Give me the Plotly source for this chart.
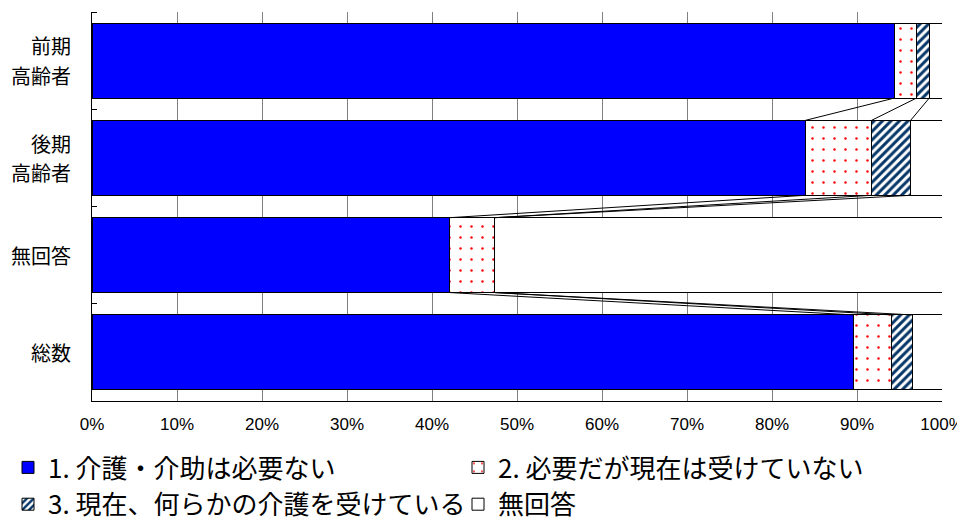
import plotly.graph_objects as go

categories = ["前期<br>高齢者", "後期<br>高齢者", "無回答", "総数"]
series_names = ["1. 介護・介助は必要ない", "2. 必要だが現在は受けていない",
                "3. 現在、何らかの介護を受けている", "無回答"]
s1 = [94.4, 83.9, 42.1, 89.6]
s2 = [2.6, 7.8, 5.3, 4.5]
s3 = [1.5, 4.6, 0.0, 2.4]
s4 = [1.5, 3.7, 52.6, 3.5]
tick_vals_x = [0, 10, 20, 30, 40, 50, 60, 70, 80, 90, 100]
tick_text_x = ["0%", "10%", "20%", "30%", "40%", "50%", "60%", "70%", "80%", "90%", "100%"]

BAR_W = 0.77
ypos = list(range(len(categories)))
series = [s1, s2, s3, s4]

cjk = "Noto Sans CJK JP"
latin = "Liberation Sans, Arial, sans-serif"

styles = [
    dict(color="#0000FF"),
    dict(color="#FFFFFF", pattern=dict(shape=".", fgcolor="#FF0000", bgcolor="#FFFFFF",
                                       fgopacity=1, size=11, solidity=0.04)),
    dict(color="#FFFFFF", pattern=dict(shape="/", fgcolor="#063668", bgcolor="#FFFFFF",
                                       fgopacity=1, size=6, solidity=0.5)),
    dict(color="#FFFFFF"),
]

fig = go.Figure()
for name, vals, st in zip(series_names, series, styles):
    fig.add_trace(go.Bar(
        y=ypos, x=vals, orientation="h", name=name, width=BAR_W,
        marker=dict(**st, line=dict(color="#000000", width=1)),
        hoverinfo="skip",
    ))

# series (connector) lines between bars
cums = []
for i in range(len(categories)):
    c, acc = [], 0.0
    for s in series[:3]:
        acc += s[i]
        c.append(acc)
    cums.append(c)
lx, ly = [], []
for i in range(len(categories) - 1):
    for k in range(3):
        lx += [cums[i][k], cums[i + 1][k], None]
        ly += [ypos[i] + BAR_W / 2, ypos[i + 1] - BAR_W / 2, None]
fig.add_trace(go.Scatter(x=lx, y=ly, mode="lines", line=dict(color="#000000", width=1),
                         showlegend=False, hoverinfo="skip"))

# category labels (one annotation per line, so line spacing matches the reference)
LINE_PITCH = 29.5
annotations = []
for yv, cat in zip(ypos, categories):
    lines = cat.split("<br>")
    n = len(lines)
    for j, ln in enumerate(lines):
        annotations.append(dict(
            xref="paper", x=0, xanchor="right", xshift=-19,
            yref="y", y=yv, yanchor="middle",
            yshift=((n - 1) / 2 - j) * LINE_PITCH,
            text=ln, showarrow=False,
            font=dict(family=cjk, size=20, color="#000000"),
        ))

# The page adds an 8px body margin, so the figure is laid out 8px up/left.
ML, MT, PW, PH = 84, 4, 850, 389
fig.update_layout(
    width=965, height=523,
    barmode="stack",
    plot_bgcolor="#FFFFFF", paper_bgcolor="#FFFFFF",
    margin=dict(l=ML, r=965 - ML - PW, t=MT, b=523 - MT - PH, autoexpand=False),
    font=dict(family=cjk, color="#000000"),
    showlegend=True,
    annotations=annotations,
    legend=dict(
        orientation="h", x=(0 - ML) / PW, xanchor="left",
        y=((MT + PH) - 436) / PH, yanchor="top",
        entrywidth=405, entrywidthmode="pixels",
        traceorder="normal",
        font=dict(family=cjk, size=26, color="#000000"),
        bgcolor="rgba(0,0,0,0)", borderwidth=0,
    ),
    xaxis=dict(
        range=[0, 100], tickvals=tick_vals_x, ticktext=tick_text_x,
        showgrid=True, gridcolor="#808080", gridwidth=1,
        showline=True, linecolor="#000000", linewidth=1,
        ticks="", zeroline=False,
        tickfont=dict(family=latin, size=17, color="#000000"),
        ticklabelstandoff=8,
        ticklabeloverflow="allow",
        fixedrange=True,
    ),
    yaxis=dict(
        range=[len(categories) - 0.5, -0.5],
        tickvals=ypos, showticklabels=False,
        showgrid=False, zeroline=False,
        showline=True, linecolor="#000000", linewidth=1,
        ticks="",
        minor=dict(tickvals=[v - 0.5 for v in ypos] + [ypos[-1] + 0.5],
                   ticks="inside", ticklen=5, tickcolor="#000000", tickwidth=1, showgrid=False),
        fixedrange=True,
    ),
)

fig.write_html("out.html")
